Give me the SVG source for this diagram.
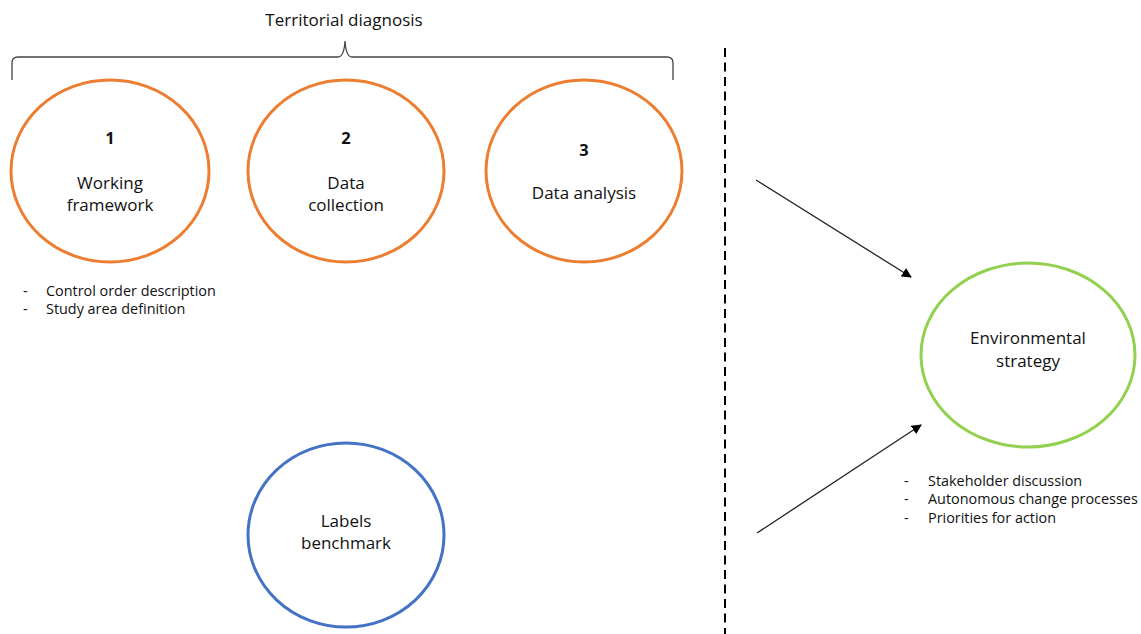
<svg xmlns="http://www.w3.org/2000/svg" width="1141" height="634" viewBox="0 0 1141 634">
  <style>
    text { font-family: "Open Sans", "Liberation Sans", sans-serif; font-size: 17px; fill: #111; }
    .c { text-anchor: middle; }
    .num { font-weight: bold; font-size: 16.5px; }
    .node { fill: none; stroke-width: 3; }
    .orange { stroke: #ED7D31; }
    .green { stroke: #92D050; }
    .blue { stroke: #4472C4; }
    .list text { font-size: 14.4px; }
    .conn { stroke: #222; stroke-width: 1.3; fill: none; }
  </style>
  <defs>
    <marker id="arrow" viewBox="0 0 10 10" refX="9" refY="5" markerWidth="10" markerHeight="10" markerUnits="userSpaceOnUse" orient="auto">
      <path d="M0,0 L10,5 L0,10 z" fill="#000"/>
    </marker>
  </defs>
  <rect width="1141" height="634" fill="#fff"/>

  <!-- brace over the three diagnosis steps -->
  <g id="diagnosis-brace">
    <text class="c" x="344" y="26">Territorial diagnosis</text>
    <path d="M12,80 L12,63 Q12,57 18,57 L338,57 Q344,57 345,41 Q346,57 352,57 L667,57 Q673,57 673,63 L673,80" fill="none" stroke="#444" stroke-width="1.3"/>
  </g>

  <g id="node-working-framework">
    <ellipse class="node orange" cx="110" cy="171" rx="99" ry="91"/>
    <text class="c num" x="110" y="144">1</text>
    <text class="c" x="110" y="189">Working</text>
    <text class="c" x="110" y="211">framework</text>
  </g>

  <g id="node-data-collection">
    <ellipse class="node orange" cx="346" cy="171" rx="98" ry="91"/>
    <text class="c num" x="346" y="144">2</text>
    <text class="c" x="346" y="189">Data</text>
    <text class="c" x="346" y="211">collection</text>
  </g>

  <g id="node-data-analysis">
    <ellipse class="node orange" cx="584" cy="171" rx="98" ry="91"/>
    <text class="c num" x="584" y="156">3</text>
    <text class="c" x="584" y="199">Data analysis</text>
  </g>

  <g id="list-framework" class="list">
    <text x="23" y="296">-</text>
    <text x="46" y="296">Control order description</text>
    <text x="23" y="314">-</text>
    <text x="46" y="314">Study area definition</text>
  </g>

  <g id="node-labels-benchmark">
    <ellipse class="node blue" cx="346" cy="535" rx="98" ry="92"/>
    <text class="c" x="346" y="527">Labels</text>
    <text class="c" x="346" y="549">benchmark</text>
  </g>

  <g id="node-environmental-strategy">
    <ellipse class="node green" cx="1028" cy="355" rx="107" ry="92"/>
    <text class="c" x="1028" y="344">Environmental</text>
    <text class="c" x="1028" y="367">strategy</text>
  </g>

  <g id="list-strategy" class="list">
    <text x="904" y="486">-</text>
    <text x="928" y="486">Stakeholder discussion</text>
    <text x="904" y="504">-</text>
    <text x="928" y="504">Autonomous change processes</text>
    <text x="904" y="523">-</text>
    <text x="928" y="523">Priorities for action</text>
  </g>

  <!-- separator between diagnosis and strategy -->
  <line x1="725" y1="48" x2="725" y2="634" stroke="#000" stroke-width="2" stroke-dasharray="9 5.5"/>

  <g id="connectors">
    <line class="conn" x1="756" y1="180" x2="911" y2="277" marker-end="url(#arrow)"/>
    <line class="conn" x1="757" y1="533" x2="921" y2="425" marker-end="url(#arrow)"/>
  </g>
</svg>
